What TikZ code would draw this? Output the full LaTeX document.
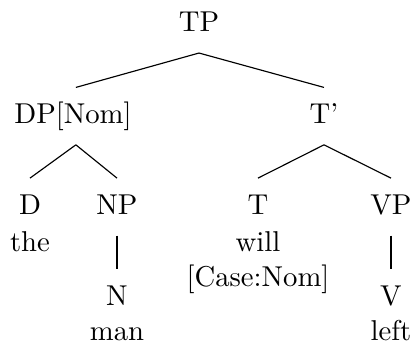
\documentclass[tikz,border=0pt]{standalone}
\begin{document}
\begin{tikzpicture}[x=0.3484pt, y=-0.3484pt,
  cat/.style={anchor=base, inner sep=5.3pt, text height=7pt, text depth=2pt},
  word/.style={anchor=base, inner sep=0pt},
  branch/.style={line width=0.4pt}]
  \useasboundingbox (0,0) rectangle (414,345);
  % categories
  \node[cat] (TP) at (199,31.5) {TP};
  \node[cat] (DP) at (73,123.3) {DP[Nom]};
  \node[cat] (Tbar) at (324,123.3) {T'};
  \node[cat] (D) at (30,214) {D};
  \node[cat] (NP) at (117,214) {NP};
  \node[cat] (T) at (258,214) {T};
  \node[cat] (VP) at (391,214) {VP};
  \node[cat] (N) at (117,305) {N};
  \node[cat] (V) at (391,305) {V};
  % words and features
  \node[word] (the) at (30,251) {the};
  \node[word] (will) at (258,251) {will};
  \node[word] (case) at (258,286) {[Case:Nom]};
  \node[word] (man) at (117,340) {man};
  \node[word] (left) at (391,340) {left};
  % branches
  \draw[branch] (TP.south) -- ([xshift=1pt]DP.north);
  \draw[branch] (TP.south) -- (Tbar.north);
  \draw[branch] ([xshift=1pt]DP.south) -- (D.north);
  \draw[branch] ([xshift=1pt]DP.south) -- (NP.north);
  \draw[branch] (Tbar.south) -- (T.north);
  \draw[branch] (Tbar.south) -- (VP.north);
  \draw[branch] (NP.south) -- (N.north);
  \draw[branch] (VP.south) -- (V.north);
\end{tikzpicture}
\end{document}
